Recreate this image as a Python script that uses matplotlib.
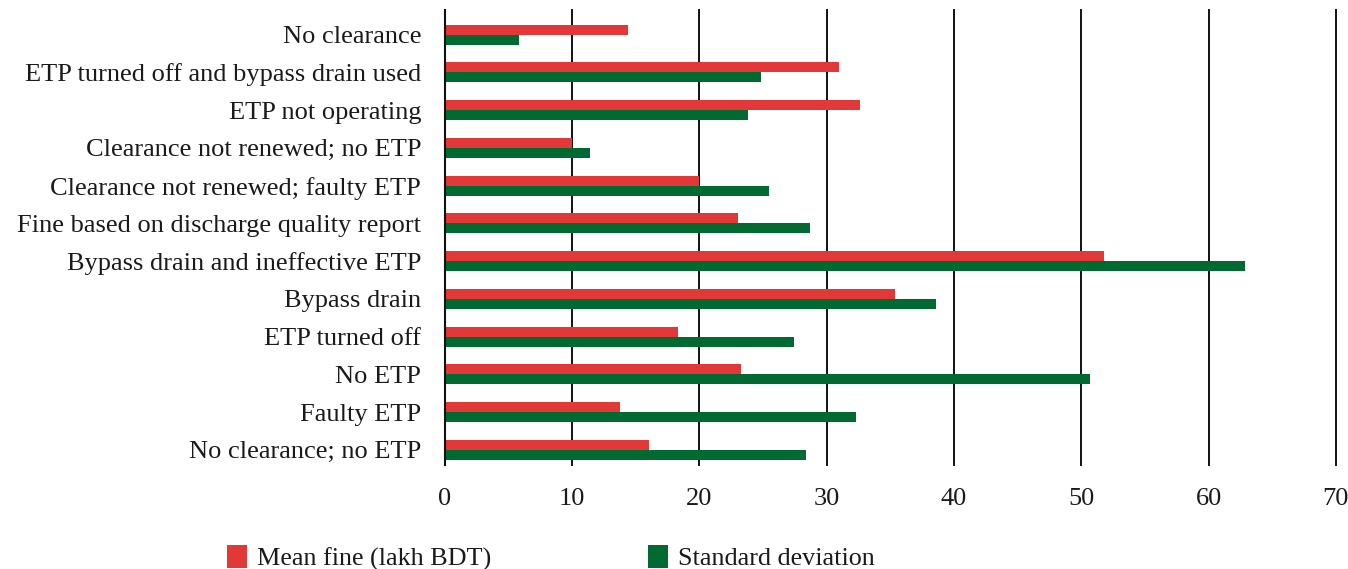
import numpy as np
import matplotlib.pyplot as plt

# Categories, top to bottom
categories = [
    "No clearance",
    "ETP turned off and bypass drain used",
    "ETP not operating",
    "Clearance not renewed; no ETP",
    "Clearance not renewed; faulty ETP",
    "Fine based on discharge quality report",
    "Bypass drain and ineffective ETP",
    "Bypass drain",
    "ETP turned off",
    "No ETP",
    "Faulty ETP",
    "No clearance; no ETP",
]
mean_fine = [14.4, 31.0, 32.6, 10.0, 20.0, 23.0, 51.8, 35.4, 18.3, 23.3, 13.8, 16.0]
std_dev = [5.8, 24.8, 23.8, 11.4, 25.5, 28.7, 62.9, 38.6, 27.4, 50.7, 32.3, 28.4]
x_ticks = [0, 10, 20, 30, 40, 50, 60, 70]

red = "#E23838"
green = "#006A31"

plt.rcParams["font.family"] = ["Liberation Serif", "DejaVu Serif"]

fig = plt.figure(figsize=(13.48, 5.69), dpi=100)
ax = fig.add_axes([0.330, 0.183, 0.661, 0.800])

n = len(categories)
y = np.arange(n)[::-1]
h = 0.265
b1 = ax.barh(y + h / 2, mean_fine, height=h, color=red, label="Mean fine (lakh BDT)", zorder=3)
b2 = ax.barh(y - h / 2, std_dev, height=h, color=green, label="Standard deviation", zorder=3)

ax.set_xlim(0, 70)
ax.set_ylim(-0.4, n - 1 + 0.66)
ax.set_xticks(x_ticks)
ax.set_yticks(y)
ax.set_yticklabels(categories)
ax.tick_params(axis="both", length=0, labelsize=19, colors="#1a1a1a")
ax.tick_params(axis="x", pad=17)
ax.tick_params(axis="y", pad=17)

for v in x_ticks[1:]:
    ax.axvline(v, color="#111111", lw=1.4, zorder=1, clip_on=False)

for s in ["top", "right", "bottom"]:
    ax.spines[s].set_visible(False)
ax.spines["left"].set_color("#111111")
ax.spines["left"].set_linewidth(1.5)
ax.spines["left"].set_zorder(4)

fig.legend(handles=[b1, b2], loc="lower left", bbox_to_anchor=(0.159, -0.026),
           ncol=2, frameon=False, fontsize=18.8, handlelength=0.77, handleheight=1.0,
           handletextpad=0.38, columnspacing=6.0, borderpad=0, labelcolor="#1a1a1a")

fig.savefig("out.png", dpi=100)
